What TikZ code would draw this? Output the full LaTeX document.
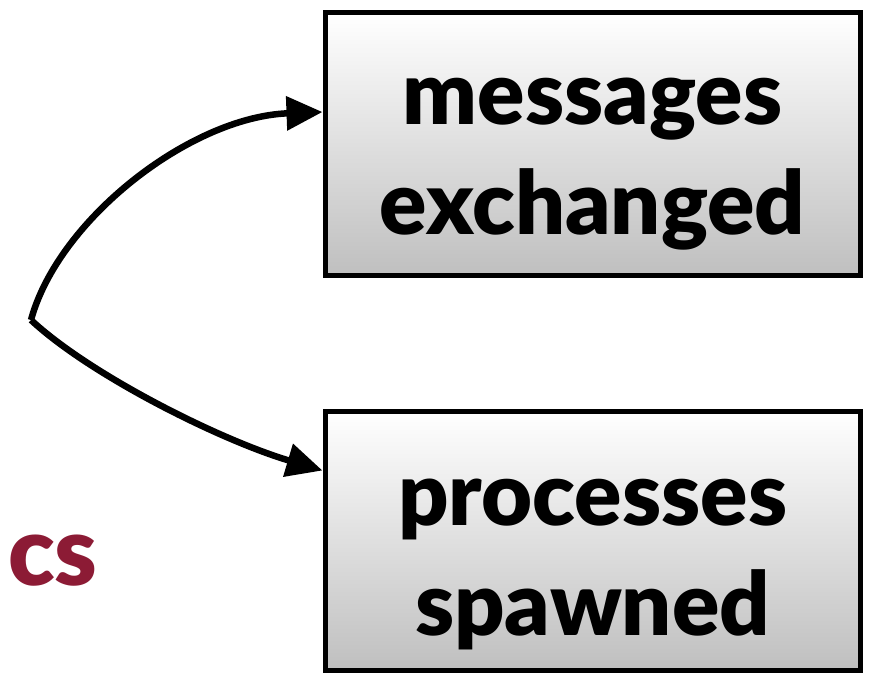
\documentclass[tikz,border=0pt]{standalone}
\usepackage{fontspec}
\setmainfont{Lato}[BoldFont={Lato Black}]
\usetikzlibrary{arrows.meta,shadows}
\definecolor{maroon}{HTML}{8C1B35}
\tikzset{
  metricbox/.style={draw=black, line width=5pt, rectangle,
    top color=white, bottom color=black!25,
    drop shadow={shadow xshift=2.5pt, shadow yshift=-3pt, opacity=0.35, fill=black!60},
    minimum width=535pt, minimum height=#1, inner sep=0pt},
  boxtext/.style={align=center, inner sep=0pt,
    font=\fontsize{88}{110}\selectfont\bfseries},
  flow/.style={line width=6.5pt, -{Triangle[length=36pt,width=33pt]}},
}
\begin{document}
\begin{tikzpicture}[x=1pt,y=-1pt]
\useasboundingbox (0,0) rectangle (869,674);

% the two result boxes
\node[metricbox=262pt] (msg) at (592.5,144) {};
\node[metricbox=259pt] (proc) at (592.5,540.5) {};
\node[boxtext] (msgtxt) at ([yshift=-20pt]msg.center) {messages\\exchanged};
\node[boxtext] (proctxt) at ([yshift=-24pt]proc.center) {processes\\spawned};

% branch point of the two arrows
\coordinate (src) at (31,320);

\draw[flow] (src) .. controls (58,220) and (190,117) .. ([yshift=32pt]msg.west);
\draw[flow] (src) .. controls (90,375) and (220,440) .. ([yshift=70pt]proc.west);

% partial word on the left
\node[anchor=base west, inner sep=0pt, text=maroon,
      font=\fontsize{96}{110}\selectfont\bfseries] (cs) at (8,585) {cs};
\end{tikzpicture}
\end{document}
